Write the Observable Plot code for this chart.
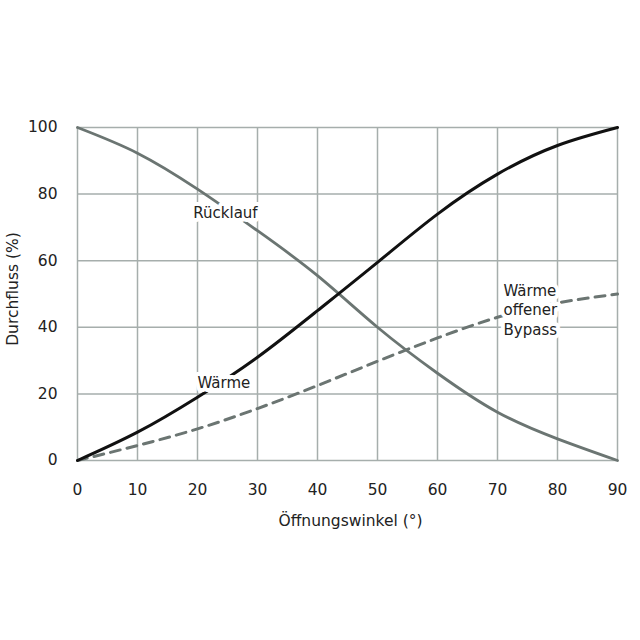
<!DOCTYPE html>
<html>
<head>
<meta charset="utf-8">
<script src="https://cdn.jsdelivr.net/npm/d3@7"></script>
<script src="https://cdn.jsdelivr.net/npm/@observablehq/plot@0.6"></script>
<style>
  html, body { margin: 0; padding: 0; background: #fff; }
  #chart { width: 640px; height: 640px; }
</style>
</head>
<body>
<div id="chart"></div>
<script>
const angles = [0, 10, 20, 30, 40, 50, 60, 70, 80, 90];
const ruecklauf = [100, 92.3, 81.5, 69, 55.5, 40, 26.2, 14.5, 6.5, 0];
const waerme = [0, 8.5, 19, 31, 45, 59.5, 74, 86, 94.6, 100];
const bypass = [0, 4.5, 9.5, 15.6, 22.5, 29.8, 36.8, 43, 47.3, 50];
const xTicks = [0, 10, 20, 30, 40, 50, 60, 70, 80, 90];
const yTicks = [0, 20, 40, 60, 80, 100];
const labels = [
  {x: 19.3, y: 74.8, text: "Rücklauf"},
  {x: 20, y: 23.5, text: "Wärme"},
  {x: 71, y: 45.5, text: "Wärme\noffener\nBypass"}
];

const rows = (vals) => angles.map((a, i) => ({x: a, y: vals[i]}));

const font = "DejaVu Sans, sans-serif";
const chart = Plot.plot({
  width: 640,
  height: 640,
  marginLeft: 77,
  marginRight: 23,
  marginTop: 127,
  marginBottom: 180,
  style: {fontFamily: font, fontSize: "15px", color: "#222", background: "#fff"},
  x: {domain: [0, 90], ticks: xTicks, label: null},
  y: {domain: [0, 100], ticks: yTicks, label: null},
  marks: [
    Plot.gridX(xTicks, {stroke: "#a6aeac", strokeOpacity: 1, strokeWidth: 1.5}),
    Plot.gridY(yTicks, {stroke: "#a6aeac", strokeOpacity: 1, strokeWidth: 1.5}),
    Plot.axisX({ticks: xTicks, tickSize: 0, tickPadding: 23, fontSize: 15.5, fill: "#222"}),
    Plot.axisY({ticks: yTicks, tickSize: 0, tickPadding: 20, fontSize: 15.5, fill: "#222"}),
    Plot.line(rows(bypass), {x: "x", y: "y", curve: "natural", stroke: "#6b7572", strokeWidth: 3, strokeDasharray: "10,7"}),
    Plot.line(rows(ruecklauf), {x: "x", y: "y", curve: "natural", stroke: "#6b7572", strokeWidth: 2.8}),
    Plot.line(rows(waerme), {x: "x", y: "y", curve: "natural", stroke: "#111", strokeWidth: 3}),
    Plot.text(labels, {x: "x", y: "y", text: "text", textAnchor: "start", lineHeight: 1.3, fontSize: 15, fill: "#222", stroke: "white", strokeWidth: 8}),
    Plot.text(["Öffnungswinkel (°)"], {frameAnchor: "bottom", textAnchor: "middle", lineAnchor: "middle", dy: 61, dx: 3, fontSize: 15.5, fill: "#222"}),
    Plot.text(["Durchfluss (%)"], {frameAnchor: "left", textAnchor: "middle", lineAnchor: "middle", dx: -64, dy: -5, rotate: -90, fontSize: 15.5, fill: "#222"})
  ]
});
document.getElementById("chart").appendChild(chart);
</script>
</body>
</html>
